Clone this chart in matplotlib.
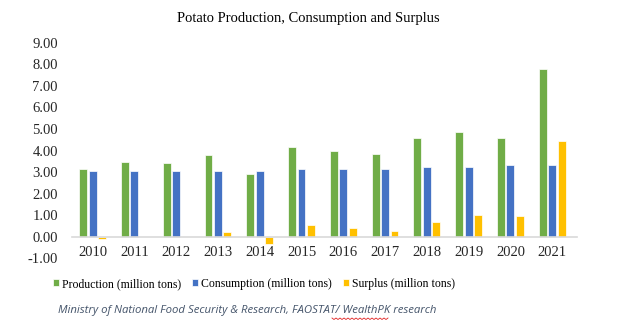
import numpy as np
import matplotlib
matplotlib.use("Agg")
import matplotlib.pyplot as plt
from matplotlib.lines import Line2D

years = ["2010", "2011", "2012", "2013", "2014", "2015",
         "2016", "2017", "2018", "2019", "2020", "2021"]
production = [3.15, 3.49, 3.40, 3.79, 2.90, 4.17, 3.97, 3.83, 4.59, 4.85, 4.57, 7.77]
consumption = [3.07, 3.07, 3.07, 3.07, 3.07, 3.16, 3.16, 3.16, 3.24, 3.24, 3.32, 3.32]
surplus = [-0.12, 0.01, 0.01, 0.23, -0.34, 0.54, 0.42, 0.27, 0.67, 0.99, 0.96, 4.44]
y_ticks = [-1, 0, 1, 2, 3, 4, 5, 6, 7, 8, 9]

green = "#70AD47"
blue = "#4472C4"
gold = "#FFC000"

plt.rcParams["font.family"] = ["Liberation Serif", "DejaVu Serif"]

fig = plt.figure(figsize=(6.35, 3.29), dpi=100)
ax = fig.add_axes([0.113, 0.215, 0.796, 0.655])

x = np.arange(len(years))
w = 0.19
step = 0.226
ax.bar(x - step, production, w, color=green, edgecolor="white", linewidth=0.5,
       label="Production (million tons)")
ax.bar(x, consumption, w, color=blue, edgecolor="white", linewidth=0.5,
       label="Consumption (million tons)")
ax.bar(x + step, surplus, w, color=gold, edgecolor="white", linewidth=0.5,
       label="Surplus (million tons)")

for s in ["top", "right", "left"]:
    ax.spines[s].set_visible(False)
ax.spines["bottom"].set_position(("data", 0))
ax.spines["bottom"].set_color("#D9D9D9")
ax.spines["bottom"].set_linewidth(1.2)

ax.set_xlim(-0.5, 11.6)
ax.set_ylim(-1, 9)
ax.set_yticks(y_ticks)
ax.set_yticklabels([f"{v:.2f}" for v in y_ticks])
ax.set_xticks(x)
ax.set_xticklabels(years)
ax.tick_params(axis="both", length=0, labelsize=10.5, labelcolor="#262626")
ax.tick_params(axis="x", pad=7)
ax.tick_params(axis="y", pad=10)
ax.patch.set_alpha(0)

fig.text(0.485, 0.945, "Potato Production, Consumption and Surplus",
         ha="center", va="center", fontsize=10.5)

fig.legend(loc="center", bbox_to_anchor=(0.40, 0.137), ncol=3, frameon=False,
           prop={"size": 8.5}, handlelength=0.55, handleheight=0.55,
           handletextpad=0.25, columnspacing=0.9)

fig.text(0.389, 0.055, "Ministry of National Food Security & Research, FAOSTAT/ WealthPK research",
         ha="center", va="center", fontfamily="Open Sans", style="italic",
         fontsize=8.2, color="#44546A")

# spell-check squiggle under "WealthPK"
zx = np.linspace(332, 388, 29) / 635
zy = 1 - (318 + np.tile([0, 1.5], 15)[:29]) / 329
fig.add_artist(Line2D(zx, zy, color="#E02020", linewidth=0.6))

fig.savefig("out.png", dpi=100)
